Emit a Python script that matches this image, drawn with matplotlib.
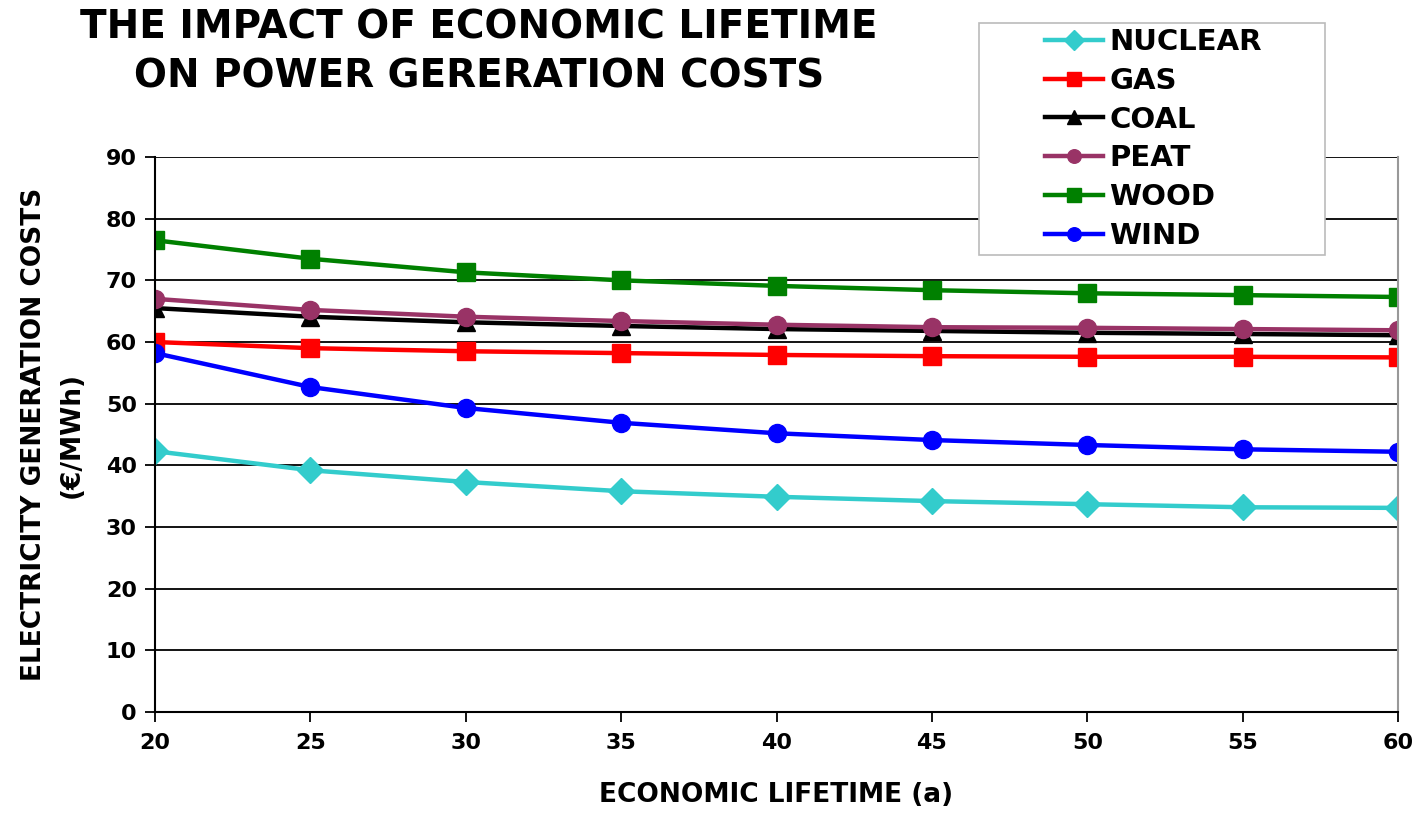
import matplotlib.pyplot as plt
from matplotlib.patches import Rectangle

plt.rcParams['font.family'] = ['DejaVu Sans']
plt.rcParams['font.weight'] = 'bold'

# Economic lifetime (years) and generation costs (EUR/MWh)
lifetime = [20, 25, 30, 35, 40, 45, 50, 55, 60]
nuclear = [42.3, 39.2, 37.3, 35.8, 34.9, 34.2, 33.7, 33.2, 33.1]
gas = [60.0, 59.0, 58.5, 58.2, 57.9, 57.7, 57.6, 57.6, 57.5]
coal = [65.5, 64.1, 63.2, 62.6, 62.1, 61.8, 61.5, 61.3, 61.1]
peat = [67.0, 65.2, 64.1, 63.4, 62.8, 62.4, 62.3, 62.1, 61.9]
wood = [76.5, 73.5, 71.3, 70.0, 69.1, 68.4, 67.9, 67.6, 67.3]
wind = [58.2, 52.7, 49.3, 46.9, 45.2, 44.1, 43.3, 42.6, 42.2]

W, H = 1419, 819
fig = plt.figure(figsize=(W / 100, H / 100), dpi=100)
ax = fig.add_axes([155/W, 1 - 712/H, (1398-155)/W, (712-157)/H])

ax.plot(lifetime, nuclear, color='#33CCCC', marker='D', markersize=13, lw=3.2, label='NUCLEAR')
ax.plot(lifetime, gas, color='#FF0000', marker='s', markersize=13, lw=3.2, label='GAS')
ax.plot(lifetime, coal, color='#000000', marker='^', markersize=13, lw=3.2, label='COAL')
ax.plot(lifetime, peat, color='#993366', marker='o', markersize=13, lw=3.2, label='PEAT')
ax.plot(lifetime, wood, color='#008000', marker='s', markersize=13, lw=3.2, label='WOOD')
ax.plot(lifetime, wind, color='#0000FF', marker='o', markersize=13, lw=3.2, label='WIND')

ax.set_xlim(20, 60)
ax.set_ylim(0, 90)
ax.set_xticks(range(20, 61, 5))
ax.set_yticks(range(0, 91, 10))
ax.yaxis.grid(True, color='black', lw=1.3)
ax.set_axisbelow(True)
ax.spines['top'].set_visible(False)
ax.spines['right'].set_color('#999999')
ax.spines['right'].set_linewidth(1.5)
ax.spines['left'].set_linewidth(1.5)
ax.spines['bottom'].set_linewidth(1.5)
ax.tick_params(labelsize=16, length=7, width=1.3, direction='out')
ax.tick_params(axis='y', pad=6)
ax.tick_params(axis='x', pad=8)

ax.set_xlabel('ECONOMIC LIFETIME (a)', fontsize=19, fontweight='bold', labelpad=21)
ax.set_ylabel('ELECTRICITY GENERATION COSTS\n(€/MWh)', fontsize=19, fontweight='bold',
              labelpad=15, linespacing=1.6)

fig.text(479/W, 1 - 52/H, 'THE IMPACT OF ECONOMIC LIFETIME\nON POWER GERERATION COSTS',
         ha='center', va='center', fontsize=28, fontweight='bold', linespacing=1.36)

# legend box drawn separately so it can be wider than its entries
fig.patches.append(Rectangle((979/W, 1 - 255/H), (1325-979)/W, (255-23)/H,
                             transform=fig.transFigure, facecolor='white',
                             edgecolor='#BBBBBB', lw=1.2, zorder=2))
leg = fig.legend(loc='upper left', bbox_to_anchor=(1045/W, 1 - 28/H), fontsize=21,
                 frameon=False, handlelength=2.0, borderpad=0, labelspacing=0.37,
                 handletextpad=0.2, borderaxespad=0, markerscale=0.75)
leg.set_zorder(3)

fig.savefig('out.png', dpi=100)
